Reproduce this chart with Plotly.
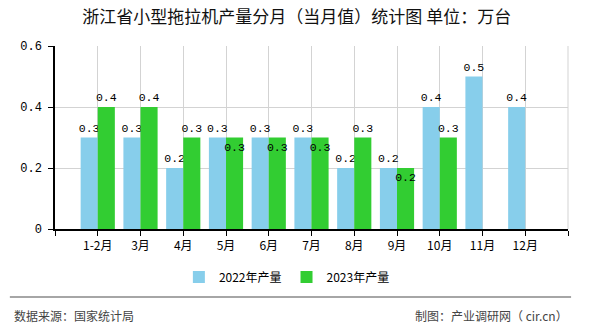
import plotly.graph_objects as go

categories = ["1-2月", "3月", "4月", "5月", "6月", "7月", "8月", "9月", "10月", "11月", "12月"]
values_2022 = [0.3, 0.3, 0.2, 0.3, 0.3, 0.3, 0.2, 0.2, 0.4, 0.5, 0.4]
values_2023 = [0.4, 0.4, 0.3, 0.3, 0.3, 0.3, 0.3, 0.2, 0.3, None, None]
label_pos_2023 = ["outside", "outside", "outside", "inside", "inside", "inside",
                  "outside", "inside", "outside", "outside", "outside"]
series_names = ["2022年产量", "2023年产量"]
y_ticks = [0, 0.2, 0.4, 0.6]
y_tick_text = ["0", "0.2", "0.4", "0.6"]

xpos = list(range(1, len(categories) + 1))

def fmt(v):
    return "" if v is None else f"{v:.1f}"

label_font = dict(family="Liberation Mono, DejaVu Sans Mono, monospace", size=11.5, color="#000000")

fig = go.Figure()
fig.add_trace(go.Bar(
    x=xpos, y=values_2022, name=series_names[0],
    marker=dict(color="#87CEEB", line=dict(width=0)),
    offset=-0.4, width=0.4,
    text=[fmt(v) for v in values_2022], textposition="outside", textangle=0,
    textfont=label_font, outsidetextfont=label_font, insidetextfont=label_font,
    constraintext="none", cliponaxis=False,
))
fig.add_trace(go.Bar(
    x=xpos, y=values_2023, name=series_names[1],
    marker=dict(color="#32CD32", line=dict(width=0)),
    offset=0, width=0.4,
    text=[fmt(v) for v in values_2023], textposition=label_pos_2023, textangle=0,
    insidetextanchor="end",
    textfont=label_font, outsidetextfont=label_font, insidetextfont=label_font,
    constraintext="none", cliponaxis=False,
))

fig.update_layout(
    width=590, height=330,
    margin=dict(l=55, r=22, t=46, b=101),
    paper_bgcolor="white", plot_bgcolor="white",
    barmode="overlay",
    font=dict(family="Noto Sans CJK SC, sans-serif", size=12, color="#333333"),
    title=dict(
        text="浙江省小型拖拉机产量分月（当月值）统计图 单位：万台",
        x=0.503, xref="container", xanchor="center",
        y=1 - 17 / 330, yref="container", yanchor="middle",
        font=dict(family="Noto Sans CJK SC, sans-serif", size=17, color="#111111"),
    ),
    legend=dict(
        orientation="h", x=0.452, xanchor="center", y=-0.262, yanchor="middle",
        font=dict(family="Noto Sans CJK SC, sans-serif", size=12, color="#000000"),
        itemwidth=30, traceorder="normal",
    ),
    showlegend=True,
)

fig.update_xaxes(
    range=[0, len(categories) + 1],
    tickvals=[0] + xpos + [len(categories) + 1],
    ticktext=[""] + categories + [""],
    ticks="outside", ticklen=5, tickcolor="#000000",
    showgrid=True, gridcolor="#D3D3D3", gridwidth=1,
    showline=True, linecolor="#000000", linewidth=1.5,
    zeroline=False,
    tickfont=dict(family="Noto Sans CJK SC, sans-serif", size=12, color="#000000"),
)
fig.update_yaxes(
    range=[0, 0.6],
    tickvals=y_ticks, ticktext=y_tick_text,
    ticks="outside", ticklen=5, tickcolor="#000000",
    showgrid=True, gridcolor="#D3D3D3", gridwidth=1,
    showline=True, linecolor="#000000", linewidth=1.5,
    zeroline=False,
    ticklabelstandoff=4,
    tickfont=dict(family="Liberation Mono, DejaVu Sans Mono, monospace", size=12, color="#000000"),
)

# right border and footer separator
fig.add_shape(type="line", xref="paper", yref="paper", x0=1, x1=1, y0=0, y1=1,
              line=dict(color="#D3D3D3", width=1))
fig.add_shape(type="line", xref="paper", yref="paper", x0=-0.088, x1=1.006,
              y0=-0.372, y1=-0.372, line=dict(color="#888888", width=1.5))

fig.add_annotation(text="数据来源：国家统计局", xref="paper", yref="paper",
                   x=-0.084, y=-0.47, xanchor="left", yanchor="middle", showarrow=False,
                   font=dict(family="Noto Sans CJK SC, sans-serif", size=12, color="#444444"))
fig.add_annotation(text="制图：产业调研网（ cir.cn）", xref="paper", yref="paper",
                   x=1.004, y=-0.47, xanchor="right", yanchor="middle", showarrow=False,
                   font=dict(family="Noto Sans CJK SC, sans-serif", size=12, color="#444444"))

fig.write_html("out.html")
